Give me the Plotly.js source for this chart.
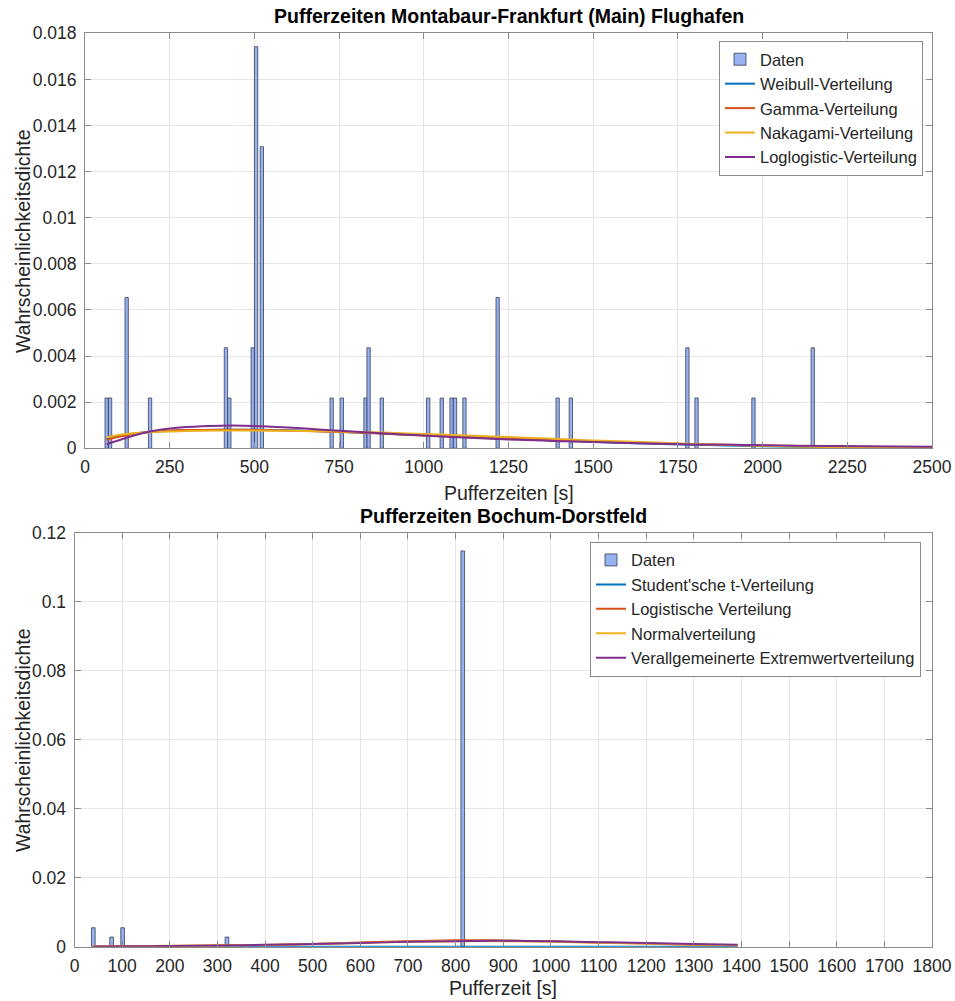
<!DOCTYPE html>
<html>
<head>
<meta charset="utf-8">
<script src="https://cdn.plot.ly/plotly-3.0.1.min.js"></script>
<style>html,body{margin:0;padding:0;background:#fff;}#chart{width:955px;height:1001px;}</style>
</head>
<body>
<div id="chart"></div>
<script>
// ---------- Top chart: Montabaur-Frankfurt (Main) Flughafen ----------
const topTitle = "Pufferzeiten Montabaur-Frankfurt (Main) Flughafen";
const topXLabel = "Pufferzeiten [s]";
const yLabel = "Wahrscheinlichkeitsdichte";
const topBinCenters = [64, 74, 123, 192, 416, 426, 495, 505, 522, 728, 758, 828, 837, 876, 1013, 1053, 1082, 1092, 1120, 1218, 1395, 1434, 1778, 1805, 1973, 2148];
const topDensity = [0.00218, 0.00218, 0.00654, 0.00218, 0.00436, 0.00218, 0.00436, 0.01742, 0.01308, 0.00218, 0.00218, 0.00218, 0.00436, 0.00218, 0.00218, 0.00218, 0.00218, 0.00218, 0.00218, 0.00654, 0.00218, 0.00218, 0.00436, 0.00218, 0.00218, 0.00436];
const topBinWidth = 9.8;

const topCurveX = [64, 100, 150, 200, 300, 400, 500, 600, 700, 800, 900, 1000, 1100, 1200, 1300, 1400, 1500, 1600, 1800, 2000, 2200, 2500];
const weibull = [0.00040, 0.00053, 0.00065, 0.00072, 0.00078, 0.00080, 0.00080, 0.00078, 0.00074, 0.00069, 0.00063, 0.00057, 0.00051, 0.00045, 0.00039, 0.00033, 0.00028, 0.00023, 0.00015, 0.00009, 0.00005, 0.00002];
const gamma = [0.00036, 0.00050, 0.00064, 0.00072, 0.00079, 0.00081, 0.00080, 0.00077, 0.00073, 0.00068, 0.00062, 0.00056, 0.00050, 0.00044, 0.00039, 0.00034, 0.00029, 0.00025, 0.00018, 0.00012, 0.00008, 0.00004];
const nakagami = [0.00048, 0.00058, 0.00066, 0.00071, 0.00075, 0.00077, 0.00077, 0.00076, 0.00074, 0.00071, 0.00067, 0.00062, 0.00057, 0.00051, 0.00046, 0.00040, 0.00034, 0.00029, 0.00019, 0.00011, 0.00006, 0.00002];
const loglogistic = [0.00018, 0.00035, 0.00058, 0.00075, 0.00092, 0.00098, 0.00097, 0.00090, 0.00081, 0.00072, 0.00063, 0.00055, 0.00048, 0.00041, 0.00036, 0.00031, 0.00027, 0.00023, 0.00017, 0.00013, 0.00010, 0.00007];
const topNames = ["Daten", "Weibull-Verteilung", "Gamma-Verteilung", "Nakagami-Verteilung", "Loglogistic-Verteilung"];
const topXTicks = [0, 250, 500, 750, 1000, 1250, 1500, 1750, 2000, 2250, 2500];
const topYTicks = [0, 0.002, 0.004, 0.006, 0.008, 0.01, 0.012, 0.014, 0.016, 0.018];
const topYTickText = ["0", "0.002", "0.004", "0.006", "0.008", "0.01", "0.012", "0.014", "0.016", "0.018"];

// ---------- Bottom chart: Bochum-Dorstfeld ----------
const botTitle = "Pufferzeiten Bochum-Dorstfeld";
const botXLabel = "Pufferzeit [s]";
const botBinCenters = [39.5, 78, 101, 320, 815];
const botDensity = [0.0055, 0.0028, 0.0055, 0.0028, 0.1148];
const botBinWidth = 7.7;

const botCurveX = [40, 100, 200, 300, 400, 500, 600, 700, 800, 850, 900, 1000, 1100, 1200, 1300, 1392];
const studentT = [0.00002, 0.00002, 0.00002, 0.00002, 0.00002, 0.00002, 0.00002, 0.00002, 0.00002, 0.00002, 0.00002, 0.00002, 0.00002, 0.00002, 0.00002, 0.00002];
const logistic = [0.00008, 0.00012, 0.00020, 0.00032, 0.00050, 0.00080, 0.00120, 0.00160, 0.00185, 0.00190, 0.00180, 0.00155, 0.00120, 0.00090, 0.00060, 0.00040];
const normal = [0.00010, 0.00014, 0.00024, 0.00036, 0.00052, 0.00080, 0.00110, 0.00140, 0.00160, 0.00162, 0.00160, 0.00140, 0.00115, 0.00090, 0.00062, 0.00042];
const gev = [0.00005, 0.00010, 0.00020, 0.00035, 0.00055, 0.00080, 0.00110, 0.00140, 0.00160, 0.00168, 0.00170, 0.00160, 0.00132, 0.00105, 0.00080, 0.00058];
const botNames = ["Daten", "Student'sche t-Verteilung", "Logistische Verteilung", "Normalverteilung", "Verallgemeinerte Extremwertverteilung"];
const botXTicks = [0, 100, 200, 300, 400, 500, 600, 700, 800, 900, 1000, 1100, 1200, 1300, 1400, 1500, 1600, 1700, 1800];
const botYTicks = [0, 0.02, 0.04, 0.06, 0.08, 0.1, 0.12];
const botYTickText = ["0", "0.02", "0.04", "0.06", "0.08", "0.1", "0.12"];

// ---------- styling ----------
const lineColors = ["#0072BD", "#D95319", "#EDB120", "#7E2F8E"];
const barFill = "rgba(140,168,240,0.9)";
const barEdge = "#3a3f55";
const FONT = "'Liberation Sans', Arial, Helvetica, sans-serif";
const W = 955, H = 1001;

function px2x(p) { return p / W; }
function py2y(p) { return 1 - p / H; }

const traces = [];
traces.push({type: 'bar', x: topBinCenters, y: topDensity, width: topBinWidth, name: topNames[0],
  marker: {color: barFill, line: {color: barEdge, width: 0.8}}, xaxis: 'x', yaxis: 'y', legend: 'legend'});
[weibull, gamma, nakagami, loglogistic].forEach((s, i) => {
  traces.push({type: 'scatter', mode: 'lines', x: topCurveX, y: s, name: topNames[i + 1],
    line: {color: lineColors[i], width: 2, shape: 'spline', smoothing: 0.6}, xaxis: 'x', yaxis: 'y', legend: 'legend'});
});
traces.push({type: 'bar', x: botBinCenters, y: botDensity, width: botBinWidth, name: botNames[0],
  marker: {color: barFill, line: {color: barEdge, width: 0.8}}, xaxis: 'x2', yaxis: 'y2', legend: 'legend2'});
[studentT, logistic, normal, gev].forEach((s, i) => {
  traces.push({type: 'scatter', mode: 'lines', x: botCurveX, y: s, name: botNames[i + 1],
    line: {color: lineColors[i], width: 2, shape: 'spline', smoothing: 0.6}, xaxis: 'x2', yaxis: 'y2', legend: 'legend2'});
});

const axisCommon = {
  showline: true, linecolor: '#8a8a8a', linewidth: 1, mirror: 'allticks',
  ticks: 'inside', ticklen: 6, tickcolor: '#8a8a8a', tickwidth: 1,
  showgrid: true, gridcolor: '#e6e6e6', gridwidth: 1, zeroline: false,
  tickfont: {family: FONT, size: 17.5, color: '#262626'}, fixedrange: true
};
const legendFont = {family: FONT, size: 16.5, color: '#262626'};

const layout = {
  width: W, height: H,
  margin: {l: 0, r: 0, t: 0, b: 0},
  paper_bgcolor: '#fff', plot_bgcolor: '#fff',
  font: {family: FONT, color: '#262626'},
  bargap: 0,
  xaxis: Object.assign({}, axisCommon, {domain: [px2x(85), px2x(932)], range: [0, 2500], tickvals: topXTicks, anchor: 'y', ticklabelstandoff: 3}),
  yaxis: Object.assign({}, axisCommon, {domain: [py2y(448.3), py2y(33.3)], range: [0, 0.018], tickvals: topYTicks, ticktext: topYTickText, anchor: 'x', ticklabelstandoff: 4}),
  xaxis2: Object.assign({}, axisCommon, {domain: [px2x(74.5), px2x(932)], range: [0, 1800], tickvals: botXTicks, anchor: 'y2', ticklabelstandoff: 3}),
  yaxis2: Object.assign({}, axisCommon, {domain: [py2y(946.7), py2y(533)], range: [0, 0.12], tickvals: botYTicks, ticktext: botYTickText, anchor: 'x2', ticklabelstandoff: 4}),
  legend: {x: px2x(719), y: py2y(41), xanchor: 'left', yanchor: 'top', bgcolor: '#fff', bordercolor: '#8a8a8a', borderwidth: 1,
    font: legendFont, tracegroupgap: 0, itemwidth: 30},
  legend2: {x: px2x(590), y: py2y(541.7), xanchor: 'left', yanchor: 'top', bgcolor: '#fff', bordercolor: '#8a8a8a', borderwidth: 1,
    font: legendFont, tracegroupgap: 0, itemwidth: 30},
  showlegend: true,
  annotations: [
    {text: topTitle, xref: 'paper', yref: 'paper', x: px2x(508.5), y: py2y(16), xanchor: 'center', yanchor: 'middle', showarrow: false,
      font: {family: FONT, size: 19.5, color: '#000', weight: 'bold'}},
    {text: botTitle, xref: 'paper', yref: 'paper', x: px2x(503), y: py2y(516), xanchor: 'center', yanchor: 'middle', showarrow: false,
      font: {family: FONT, size: 19.5, color: '#000', weight: 'bold'}},
    {text: topXLabel, xref: 'paper', yref: 'paper', x: px2x(508.5), y: py2y(493), xanchor: 'center', yanchor: 'middle', showarrow: false,
      font: {family: FONT, size: 19.5, color: '#262626'}},
    {text: botXLabel, xref: 'paper', yref: 'paper', x: px2x(503), y: py2y(988), xanchor: 'center', yanchor: 'middle', showarrow: false,
      font: {family: FONT, size: 19.5, color: '#262626'}},
    {text: yLabel, xref: 'paper', yref: 'paper', x: px2x(23), y: py2y(241), xanchor: 'center', yanchor: 'middle', showarrow: false, textangle: -90,
      font: {family: FONT, size: 19.5, color: '#262626'}},
    {text: yLabel, xref: 'paper', yref: 'paper', x: px2x(23), y: py2y(740), xanchor: 'center', yanchor: 'middle', showarrow: false, textangle: -90,
      font: {family: FONT, size: 19.5, color: '#262626'}}
  ]
};

Plotly.newPlot('chart', traces, layout, {displayModeBar: false, staticPlot: true});
</script>
</body>
</html>
